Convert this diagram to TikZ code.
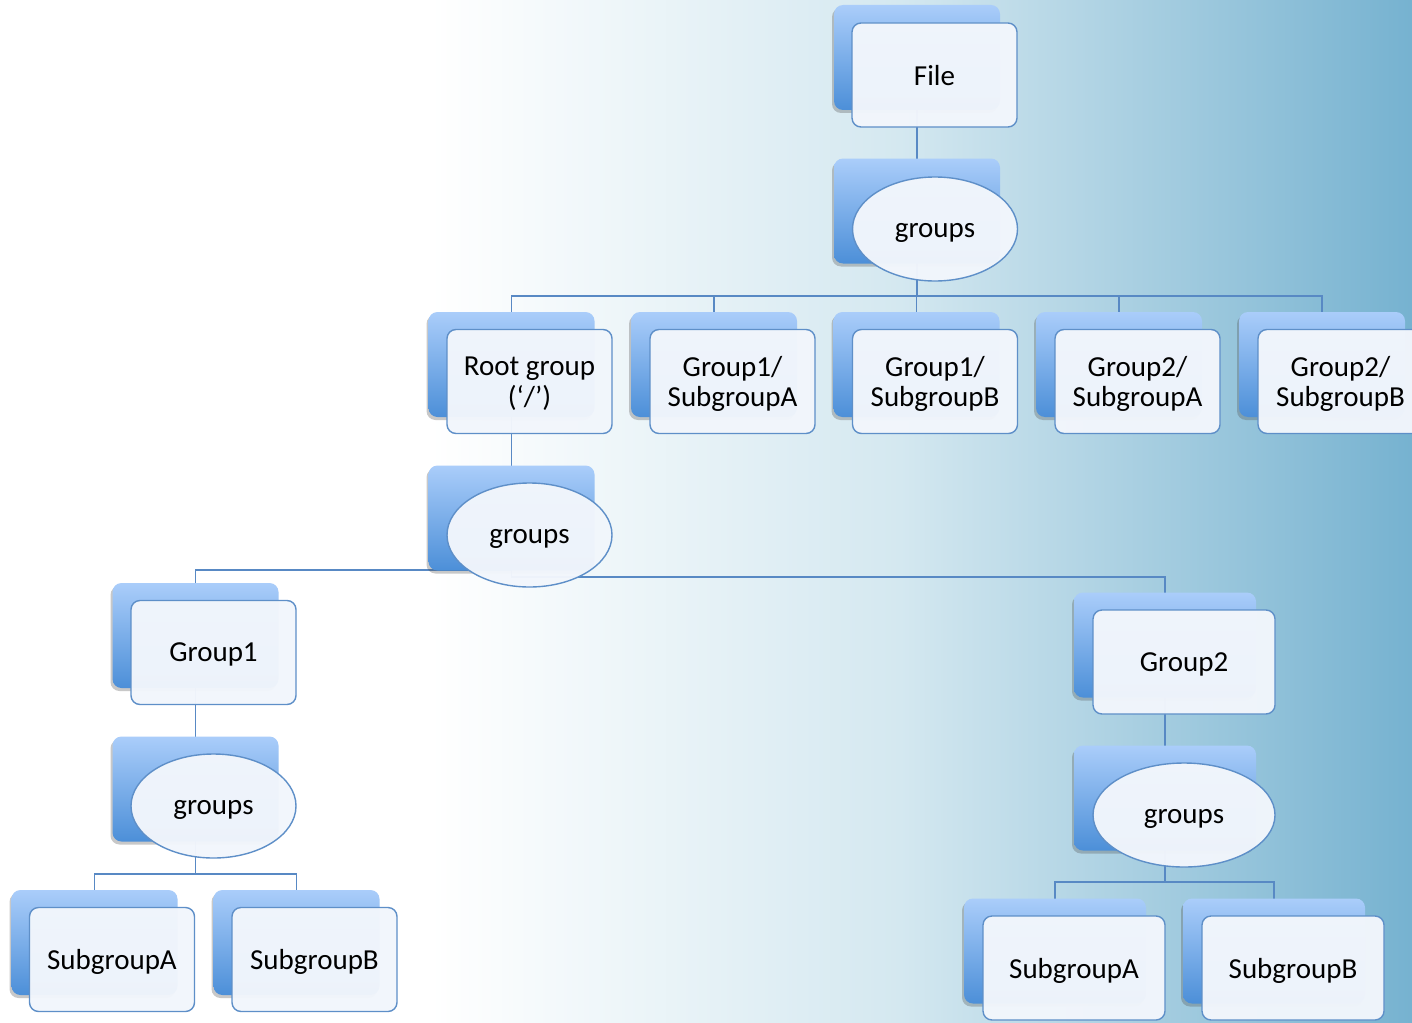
\documentclass[tikz,border=0pt]{standalone}
\usepackage{fontspec}
\setmainfont{Carlito}
\usetikzlibrary{shapes.geometric,shadows,calc}
\definecolor{bgmid}{RGB}{212,232,240}
\definecolor{bgend}{RGB}{118,178,208}
\definecolor{backtop}{RGB}{170,205,250}
\definecolor{backbot}{RGB}{76,143,216}
\definecolor{edgecol}{RGB}{94,143,200}
\definecolor{frontfill}{RGB}{242,246,252}
\definecolor{conncol}{RGB}{88,137,196}
\pgfdeclarelayer{bglayer}
\pgfdeclarelayer{connlayer}
\pgfsetlayers{bglayer,connlayer,main}
\newcommand\elltext[1]{\raisebox{-3pt}{#1}}
\begin{document}
\begin{tikzpicture}[x=1pt,y=-1pt,
  backbox/.style={rectangle, rounded corners=9pt, minimum width=#1, minimum height=105pt,
    top color=backtop, bottom color=backbot, draw=none, inner sep=0pt,
    drop shadow={shadow xshift=-2pt, shadow yshift=-3pt, opacity=0.3, fill=black!70}},
  backbox/.default=166pt,
  frontbox/.style={rectangle, rounded corners=9pt, minimum width=#1, minimum height=104pt,
    draw=edgecol, line width=1.4pt, fill=frontfill, fill opacity=0.97, text opacity=1,
    align=center, font=\fontsize{29}{30.5}\selectfont, inner sep=0pt, text depth=0pt},
  frontbox/.default=165pt,
  frontell/.style={ellipse, minimum width=#1, minimum height=104pt,
    draw=edgecol, line width=1.4pt, fill=frontfill, fill opacity=0.97, text opacity=1,
    align=center, font=\fontsize{29}{30.5}\selectfont, inner sep=0pt, text depth=0pt},
  frontell/.default=165pt,
  conn/.style={draw=conncol, line width=1.4pt}
]
\useasboundingbox (0,0) rectangle (1412,1022);
\begin{pgfonlayer}{bglayer}
  \fill[white] (0,0) rectangle (431,1022);
  \shade[left color=white, right color=bgmid] (430,0) rectangle (901,1022);
  \shade[left color=bgmid, right color=bgend] (900,0) rectangle (1412,1022);
\end{pgfonlayer}

% back shapes
\node[backbox] (fileB) at (917,57.5) {};
\node[backbox] (grpAB) at (917,211) {};
\node[backbox] (rootB) at (511.5,364.5) {};
\node[backbox] (gasaB) at (714,364.5) {};
\node[backbox] (gasbB) at (916.5,364.5) {};
\node[backbox] (gbsaB) at (1119,364.5) {};
\node[backbox] (gbsbB) at (1322,364.5) {};
\node[backbox] (grpBB) at (511.5,518) {};
\node[backbox] (g1B) at (195.5,635.5) {};
\node[backbox] (grpCB) at (195.5,789) {};
\node[backbox] (saLB) at (94.5,942.5) {};
\node[backbox] (sbLB) at (296.5,942.5) {};
\node[backbox=182pt] (g2B) at (1165,645) {};
\node[backbox=182pt] (grpDB) at (1165,798) {};
\node[backbox=182pt] (saRB) at (1055,951) {};
\node[backbox=182pt] (sbRB) at (1274,951) {};

% front shapes
\node[frontbox] (file) at (934.5,75) {File};
\node[frontell] (grpA) at (935,229) {\elltext{groups}};
\node[frontbox] (root) at (529.5,381.5) {Root group\\(‘/’)};
\node[frontbox] (gasa) at (732.5,381.5) {Group1/\\SubgroupA};
\node[frontbox] (gasb) at (935,381.5) {Group1/\\SubgroupB};
\node[frontbox] (gbsa) at (1137.5,381.5) {Group2/\\SubgroupA};
\node[frontbox] (gbsb) at (1340.5,381.5) {Group2/\\SubgroupB};
\node[frontell] (grpB) at (529.5,535) {\elltext{groups}};
\node[frontbox] (g1) at (213.5,652.5) {Group1};
\node[frontell] (grpC) at (213.5,806) {\elltext{groups}};
\node[frontbox] (saL) at (112,959.5) {SubgroupA};
\node[frontbox] (sbL) at (314.5,959.5) {SubgroupB};
\node[frontbox=182pt] (g2) at (1184,662) {Group2};
\node[frontell=182pt] (grpD) at (1184,815) {\elltext{groups}};
\node[frontbox=182pt] (saR) at (1074,968) {SubgroupA};
\node[frontbox=182pt] (sbR) at (1293,968) {SubgroupB};

% connectors
\begin{pgfonlayer}{connlayer}
  \coordinate (busA) at (917,296);
  \coordinate (busBL) at (511.5,570);
  \coordinate (busBR) at (511.5,577);
  \coordinate (busC) at (195.5,874);
  \coordinate (busD) at (1165,882);
  \draw[conn] (fileB.center) -- (grpAB.center);
  \draw[conn] (grpAB.center) -- (busA);
  \foreach \n in {rootB,gasaB,gasbB,gbsaB,gbsbB}
    \draw[conn] (busA) -| (\n.center);
  \draw[conn] (rootB.center) -- (grpBB.center);
  \draw[conn] (grpBB.center) -- (busBL) -| (g1B.center);
  \draw[conn] (busBL) -- (busBR) -| (g2B.center);
  \draw[conn] (g1B.center) -- (grpCB.center);
  \draw[conn] (grpCB.center) -- (busC);
  \draw[conn] (busC) -| (saLB.center);
  \draw[conn] (busC) -| (sbLB.center);
  \draw[conn] (g2B.center) -- (grpDB.center);
  \draw[conn] (grpDB.center) -- (busD);
  \draw[conn] (busD) -| (saRB.center);
  \draw[conn] (busD) -| (sbRB.center);
\end{pgfonlayer}
\end{tikzpicture}
\end{document}
